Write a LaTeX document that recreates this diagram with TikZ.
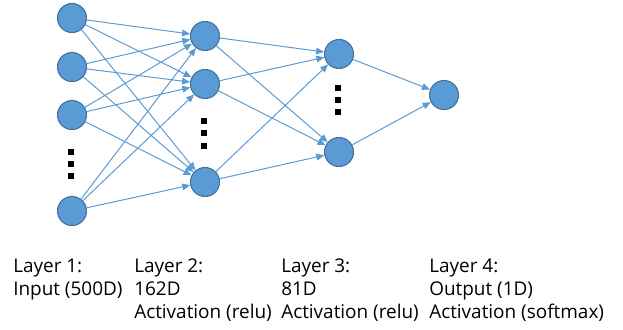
\documentclass[tikz,border=0pt]{standalone}
\usepackage{fontspec}
\setmainfont{Open Sans}
\usetikzlibrary{arrows.meta}

\definecolor{neuronkek}{HTML}{5B9BD5}
\definecolor{neuronkeret}{HTML}{41719C}
\tikzset{
  neuron/.style={circle, fill=neuronkek, draw=neuronkeret, line width=0.8pt,
    minimum size=21.75pt, inner sep=0pt},
  kapcsolat/.style={draw=neuronkek, line width=0.75pt,
    -{Triangle[length=6pt,width=5pt]}},
  felirat/.style={anchor=base west, inner sep=0pt,
    font=\fontsize{14.2}{16}\selectfont}
}

\begin{document}
\begin{tikzpicture}[x=0.75pt,y=-0.75pt]
        \useasboundingbox (0,0) rectangle (623,329);
        % Az első réteg csomópontjai
        \node[neuron] (a1) at (72,18) {};
        \node[neuron] (a2) at (72,67) {};
        \node[neuron] (a3) at (72,115) {};
        \node[neuron] (a4) at (72,211) {};
        % A második réteg csomópontjai
        \node[neuron] (b1) at (205,36) {};
        \node[neuron] (b2) at (205,84) {};
        \node[neuron] (b3) at (205,182) {};
        % A harmadik réteg csomópontjai
        \node[neuron] (c1) at (339,54) {};
        \node[neuron] (c2) at (339,152) {};
        % A kimeneti csomópont
        \node[neuron] (d1) at (444,95) {};
        % Összekötjük a rétegeket nyilakkal
        \foreach \i in {a1,a2,a3,a4}
          \foreach \j in {b1,b2,b3}
            \draw[kapcsolat] (\i) -- (\j);
        \foreach \i in {b1,b2,b3}
          \foreach \j in {c1,c2}
            \draw[kapcsolat] (\i) -- (\j);
        \draw[kapcsolat] (c1) -- (d1);
        \draw[kapcsolat] (c2) -- (d1);
        % Pontok a kihagyott csomópontok helyén
        \foreach \x/\y in {71/152,71/164,71/176,204/121,204/133,204/146,338/88,338/100,338/112}
          \fill (\x-3,\y-3) rectangle (\x+3,\y+3);
        % A rétegek leírása
        \node[felirat] (t11) at (13,272) {Layer 1:};
        \node[felirat] (t12) at (13,295) {Input (500D)};
        \node[felirat] (t21) at (134,272) {Layer 2:};
        \node[felirat] (t22) at (134,295) {162D};
        \node[felirat] (t23) at (134,318) {Activation (relu)};
        \node[felirat] (t31) at (281,272) {Layer 3:};
        \node[felirat] (t32) at (281,295) {81D};
        \node[felirat] (t33) at (281,318) {Activation (relu)};
        \node[felirat] (t41) at (429,272) {Layer 4:};
        \node[felirat] (t42) at (429,295) {Output (1D)};
        \node[felirat] (t43) at (429,318) {Activation (softmax)};
    \end{tikzpicture}
\end{document}
